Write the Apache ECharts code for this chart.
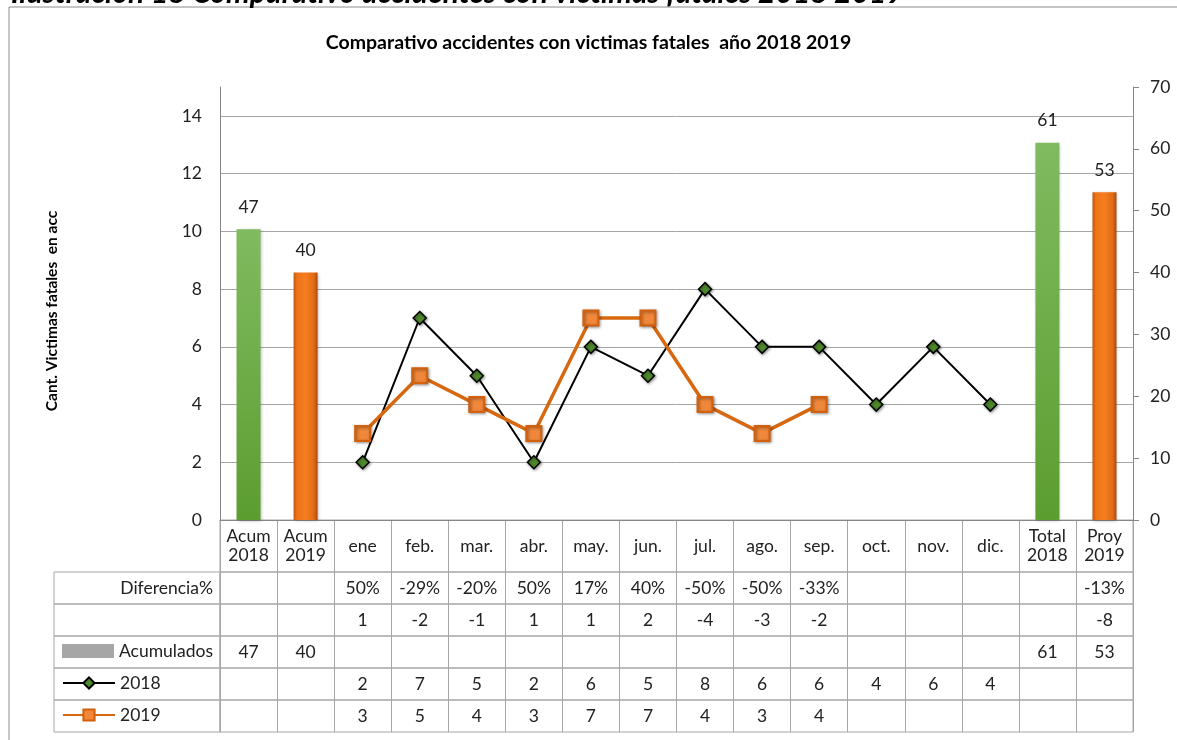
<!DOCTYPE html>
<html>
<head>
<meta charset="utf-8">
<script src="https://cdn.jsdelivr.net/npm/echarts@6/dist/echarts.min.js"></script>
<style>
  html, body { margin: 0; padding: 0; background: #fff; }
  #grafico { width: 1177px; height: 740px; }
</style>
</head>
<body>
<div id="grafico"></div>
<script>
  // datos
  var categorias = ['Acum\n2018', 'Acum\n2019', 'ene', 'feb.', 'mar.', 'abr.', 'may.', 'jun.', 'jul.', 'ago.', 'sep.', 'oct.', 'nov.', 'dic.', 'Total\n2018', 'Proy\n2019'];
  var acumulados = [47, 40, null, null, null, null, null, null, null, null, null, null, null, null, 61, 53];
  var victimas2018 = [null, null, 2, 7, 5, 2, 6, 5, 8, 6, 6, 4, 6, 4, null, null];
  var victimas2019 = [null, null, 3, 5, 4, 3, 7, 7, 4, 3, 4, null, null, null, null, null];
  var diferenciaPct = ['', '', '50%', '-29%', '-20%', '50%', '17%', '40%', '-50%', '-50%', '-33%', '', '', '', '', '-13%'];
  var diferencia = ['', '', '1', '-2', '-1', '1', '1', '2', '-4', '-3', '-2', '', '', '', '', '-8'];

  var FUENTE = 'Lato, "Open Sans", sans-serif';
  var TAM = 17.5;
  var GRIS = '#a6a6a6';
  var IZQ = 220, ANCHO = 913;

  var chart = echarts.init(document.getElementById('grafico'));

  /*------------------------------ colores de las barras ------------------------------*/
  var verde = new echarts.graphic.LinearGradient(0, 0, 0, 1, [
    { offset: 0, color: '#80bb60' }, { offset: 1, color: '#5c9d30' }
  ]);
  var naranja = new echarts.graphic.LinearGradient(0, 0, 1, 0, [
    { offset: 0, color: '#c4560e' }, { offset: 0.15, color: '#ef7419' },
    { offset: 0.5, color: '#f67d20' }, { offset: 0.85, color: '#e06a14' }, { offset: 1, color: '#a84a0a' }
  ]);

  function texto(v) { return v == null ? '' : String(v); }

  /*------------------------------ grids: grafico + tabla ------------------------------*/
  var grids = [
    { left: IZQ, top: 116, width: ANCHO, height: 404 },   // lineas (eje izq)
    { left: IZQ, top: 87, width: ANCHO, height: 433 },    // barras (eje der)
    { left: IZQ, top: 520, width: ANCHO, height: 52, show: true, borderColor: GRIS, borderWidth: 1 } // encabezado
  ];
  var xAxes = [
    { gridIndex: 0, type: 'category', data: categorias, show: false },
    { gridIndex: 1, type: 'category', data: categorias,
      axisLine: { lineStyle: { color: '#868686' } }, axisTick: { show: false }, axisLabel: { show: false } }
  ];
  var yAxes = [
    { gridIndex: 0, type: 'value', min: 0, max: 14, interval: 2, position: 'left',
      name: 'Cant. Victimas fatales  en acc', nameLocation: 'middle', nameGap: 160, nameRotate: 90,
      nameTextStyle: { fontFamily: FUENTE, fontSize: 15.5, fontWeight: 'bold', color: '#000', padding: [0, 0, 0, 14] },
      axisLine: { show: false }, axisTick: { show: false },
      axisLabel: { fontFamily: FUENTE, fontSize: TAM, color: '#222', margin: 18 },
      splitLine: { lineStyle: { color: GRIS } } },
    { gridIndex: 1, type: 'value', min: 0, max: 1, position: 'left',
      axisLine: { show: true, lineStyle: { color: '#868686' } }, axisTick: { show: false },
      axisLabel: { show: false }, splitLine: { show: false } },
    { gridIndex: 1, type: 'value', min: 0, max: 70, interval: 10, position: 'right',
      axisLine: { show: true, lineStyle: { color: '#868686' } },
      axisTick: { show: true, length: 6, lineStyle: { color: '#868686' } },
      axisLabel: { fontFamily: FUENTE, fontSize: TAM, color: '#222', margin: 17 },
      splitLine: { show: false } }
  ];

  function ejeTabla(gridIndex, valores, margen) {
    return {
      gridIndex: gridIndex, type: 'category',
      data: valores.map(function (v, i) { return String(i); }),
      axisLine: { show: false }, axisTick: { show: false },
      splitLine: { show: true, interval: 0, lineStyle: { color: GRIS } },
      axisLabel: {
        inside: true, interval: 0, margin: margen, verticalAlign: 'middle',
        fontFamily: FUENTE, fontSize: TAM, color: '#222', lineHeight: 19,
        formatter: function (v, i) { return texto(valores[i]); }
      }
    };
  }

  xAxes.push(ejeTabla(2, categorias, 26));
  yAxes.push({ gridIndex: 2, type: 'value', show: false });

  var filas = [diferenciaPct, diferencia, acumulados, victimas2018, victimas2019];
  var filasTop = [572, 604, 636, 668, 700];
  filas.forEach(function (fila, k) {
    var gi = grids.length;
    grids.push({ left: IZQ, top: filasTop[k], width: ANCHO, height: 32, show: true, borderColor: GRIS, borderWidth: 1 });
    xAxes.push(ejeTabla(gi, fila, 16));
    yAxes.push({ gridIndex: gi, type: 'value', show: false });
    // celda de la columna de nombres
    grids.push({ left: 54, top: filasTop[k], width: IZQ - 54, height: 32, show: true, borderColor: GRIS, borderWidth: 1 });
  });

  // una leyenda por fila de la tabla
  var nombresLeyenda = ['Acumulados', '2018', '2019'];
  var leyendas = nombresLeyenda.map(function (nombre, k) {
    var item = { name: nombre };
    if (nombre === 'Acumulados') { item.icon = 'rect'; item.itemStyle = { color: GRIS }; }
    return {
      orient: 'horizontal', left: 57, top: filasTop[k + 2] + 1, itemWidth: 52, itemHeight: 14,
      textStyle: { fontFamily: FUENTE, fontSize: TAM, color: '#222' },
      data: [item]
    };
  });

  var option = {
    animation: false,
    backgroundColor: '#fff',
    title: [
      { text: 'Comparativo accidentes con victimas fatales  año 2018 2019', left: 'center', top: 28,
        textStyle: { fontFamily: FUENTE, fontSize: 19.5, fontWeight: 'bold', color: '#000' } },
      { text: 'Ilustración 18 Comparativo accidentes con victimas fatales 2018 2019', left: 6, top: -27,
        textStyle: { fontFamily: FUENTE, fontSize: 30, fontWeight: 'bold', fontStyle: 'italic', color: '#000' } }
    ],
    legend: leyendas,
    graphic: [
      { type: 'rect', silent: true, z: -10, shape: { x: 9, y: 7, width: 1200, height: 800 },
        style: { fill: 'none', stroke: '#8c8c8c', lineWidth: 1 } },
      { type: 'text', silent: true, x: 213, y: 588,
        style: { text: 'Diferencia%', align: 'right', verticalAlign: 'middle', fontFamily: FUENTE, fontSize: TAM, fill: '#222' } }
    ],
    grid: grids,
    xAxis: xAxes,
    yAxis: yAxes,
    series: [
      {
        name: 'Acumulados', type: 'bar', xAxisIndex: 1, yAxisIndex: 2, barWidth: 24,
        data: acumulados,
        itemStyle: {
          color: function (p) { return categorias[p.dataIndex].indexOf('2018') >= 0 ? verde : naranja; },
          shadowBlur: 3, shadowColor: 'rgba(0,0,0,0.25)', shadowOffsetX: 1, shadowOffsetY: 1
        },
        label: { show: true, position: 'top', distance: 13, fontFamily: FUENTE, fontSize: TAM, color: '#222' }
      },
      {
        name: '2018', type: 'line', xAxisIndex: 0, yAxisIndex: 0, data: victimas2018,
        symbol: 'diamond', symbolSize: 13, showAllSymbol: true,
        lineStyle: { color: '#000', width: 2 },
        itemStyle: { color: '#4f8a2b', borderColor: '#000', borderWidth: 1.5,
          shadowBlur: 3, shadowColor: 'rgba(0,0,0,0.4)', shadowOffsetX: 1, shadowOffsetY: 1 }
      },
      {
        name: '2019', type: 'line', xAxisIndex: 0, yAxisIndex: 0, data: victimas2019,
        symbol: 'rect', symbolSize: 15, showAllSymbol: true,
        lineStyle: { color: '#d8680f', width: 3.5 },
        itemStyle: { color: '#f0873a', borderColor: '#d2600c', borderWidth: 2,
          shadowBlur: 3, shadowColor: 'rgba(0,0,0,0.4)', shadowOffsetX: 1, shadowOffsetY: 1 }
      }
    ]
  };

  chart.setOption(option);
</script>
</body>
</html>
